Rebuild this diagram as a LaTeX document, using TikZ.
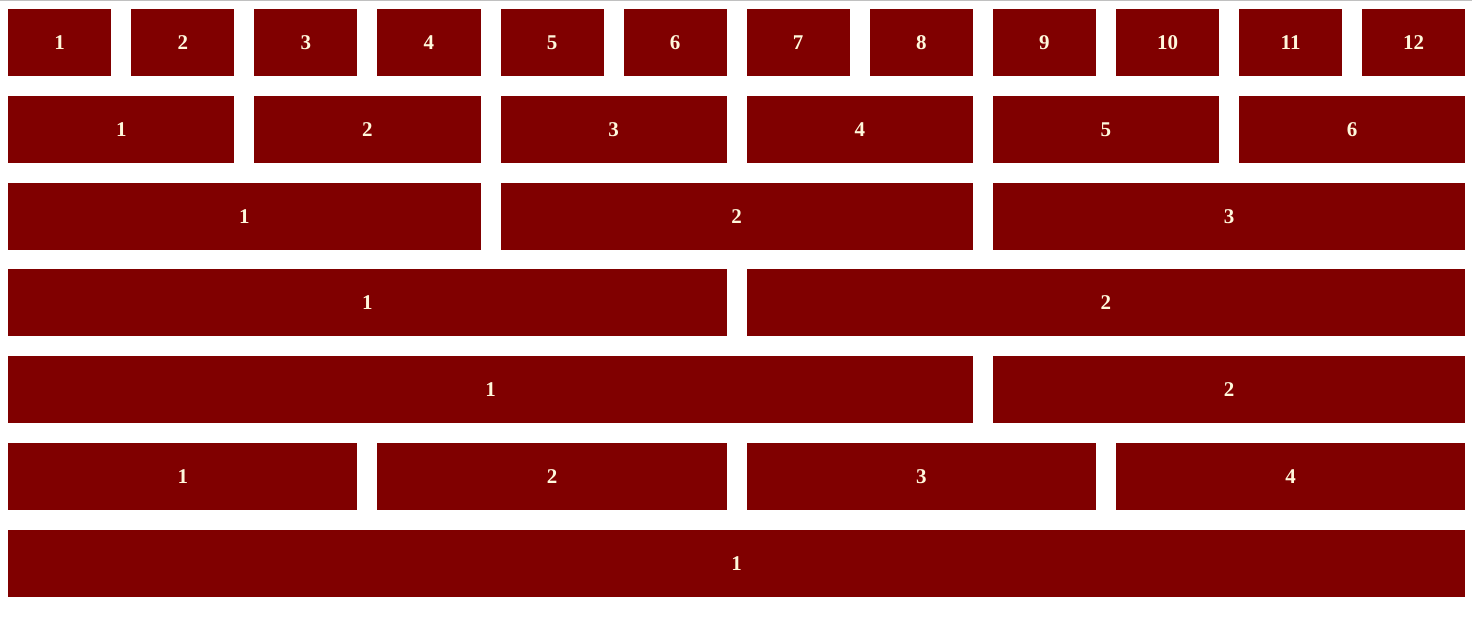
\documentclass[tikz,border=0pt]{standalone}
\usepackage{fontspec}
\setmainfont{Liberation Serif}
\definecolor{maroonbox}{HTML}{800000}
\definecolor{creamtext}{HTML}{FFF8DC}
\definecolor{topline}{HTML}{C0C0C0}
\begin{document}
\begin{tikzpicture}[x=1pt,y=-1pt,
  cell/.style={fill=maroonbox,draw=none,inner sep=0pt,text=creamtext,
    font=\fontsize{21}{21}\selectfont\bfseries}]
\useasboundingbox (0,0) rectangle (1472,628);
\fill[white] (0,0) rectangle (1472,628);
\fill[topline] (0,0) rectangle (1472,1.5);
\def\pitch{123.083}
\def\cw{103.083}
% \cellbox{name}{row top}{start col (0-based)}{span}{label}
\newcommand{\cellbox}[5]{%
  \pgfmathsetmacro{\xa}{8+(#3)*\pitch}%
  \pgfmathsetmacro{\xb}{8+((#3)+(#4)-1)*\pitch+\cw}%
  \node[cell,minimum width={\xb-\xa},minimum height=67,anchor=north west] (#1) at (\xa,#2) {#5};%
}
\foreach \i in {1,...,12}{ \cellbox{a\i}{9}{\i-1}{1}{\i} }
\foreach \i in {1,...,6}{ \cellbox{b\i}{96}{2*(\i-1)}{2}{\i} }
\foreach \i in {1,...,3}{ \cellbox{c\i}{183}{4*(\i-1)}{4}{\i} }
\foreach \i in {1,...,2}{ \cellbox{d\i}{269}{6*(\i-1)}{6}{\i} }
\cellbox{e1}{356}{0}{8}{1}
\cellbox{e2}{356}{8}{4}{2}
\foreach \i in {1,...,4}{ \cellbox{f\i}{443}{3*(\i-1)}{3}{\i} }
\cellbox{g1}{530}{0}{12}{1}
\end{tikzpicture}
\end{document}
